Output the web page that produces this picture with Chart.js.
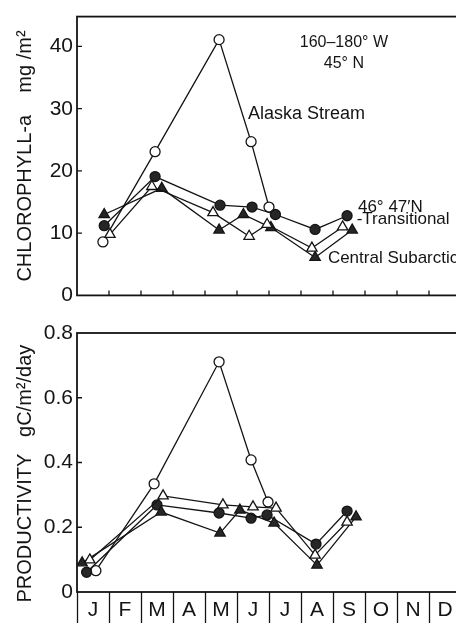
<!DOCTYPE html>
<html>
<head>
<meta charset="utf-8">
<script src="https://cdn.jsdelivr.net/npm/chart.js@4/dist/chart.umd.min.js"></script>
<style>
  html, body { margin: 0; padding: 0; background: #fff; overflow: hidden; }
  #wrap { position: relative; width: 456px; height: 623px; overflow: hidden; }
  canvas { position: absolute; left: 0; }
  #chlChart { top: 0; }
  #prodChart { top: 312px; }
</style>
</head>
<body>
<div id="wrap">
  <canvas id="chlChart" width="470" height="312"></canvas>
  <canvas id="prodChart" width="470" height="311"></canvas>
</div>
<script>
// months along the bottom strip; x is time in months (0 = start of Jan)
const MONTHS = ['J', 'F', 'M', 'A', 'M', 'J', 'J', 'A', 'S', 'O', 'N', 'D'];
const CHL_TICKS = [0, 10, 20, 30, 40];
const PROD_TICKS = [0, 0.2, 0.4, 0.6, 0.8];

// Alaska Stream (open circles)
const alaskaChlX = [0.81, 2.44, 4.44, 5.44, 6.0];
const alaskaChl = [8.6, 23.1, 41.1, 24.7, 14.2];
const alaskaProdX = [0.59, 2.41, 4.44, 5.44, 5.97];
const alaskaProd = [0.066, 0.334, 0.711, 0.408, 0.278];

// 46-47N (filled circles)
const northChlX = [0.85, 2.44, 4.47, 5.47, 6.2, 7.44, 8.44];
const northChl = [11.2, 19.1, 14.5, 14.2, 13.0, 10.6, 12.8];
const northProdX = [0.3, 2.5, 4.44, 5.44, 5.94, 7.47, 8.44];
const northProd = [0.061, 0.269, 0.244, 0.228, 0.238, 0.148, 0.25];

// Transitional (open triangles)
const transChlX = [1.03, 2.34, 4.25, 5.38, 5.94, 7.34, 8.3];
const transChl = [9.8, 17.5, 13.3, 9.5, 11.4, 7.6, 11.0];
const transProdX = [0.4, 2.69, 4.56, 5.5, 6.22, 7.44, 8.44];
const transProd = [0.099, 0.297, 0.269, 0.263, 0.259, 0.114, 0.216];

// Central Subarctic (filled triangles)
const centChlX = [0.85, 2.65, 4.44, 5.2, 6.06, 7.44, 8.6];
const centChl = [13.0, 17.2, 10.5, 13.0, 10.9, 6.1, 10.5];
const centProdX = [0.16, 2.63, 4.47, 5.09, 6.16, 7.5, 8.72];
const centProd = [0.090, 0.247, 0.182, 0.253, 0.213, 0.083, 0.232];

// text labels inside the chlorophyll panel, placed in data units
const chlNotes = [
  { text: '160\u2013180\u00b0 W', x: 8.34, y: 40.6, align: 'center', size: 16 },
  { text: '45\u00b0 N', x: 8.34, y: 37.2, align: 'center', size: 16 },
  { text: 'Alaska Stream', x: 5.34, y: 29.2, align: 'left', size: 18 },
  { text: '46\u00b0 47\u2032N', x: 8.78, y: 14.1, align: 'left', size: 17 },
  { text: '-Transitional', x: 8.74, y: 12.2, align: 'left', size: 17 },
  { text: 'Central Subarctic', x: 7.84, y: 5.9, align: 'left', size: 17 }
];

const INK = '#141414';
const FONT = "'Liberation Sans', Arial, sans-serif";

function pts(xs, ys) {
  return xs.map((x, i) => ({ x: x, y: ys[i] }));
}

function series(data, style, filled) {
  const isTri = style === 'triangle';
  return {
    data: data,
    borderColor: INK,
    borderWidth: 1.3,
    tension: 0,
    fill: false,
    pointStyle: style,
    pointRadius: isTri ? 6 : 5,
    pointBackgroundColor: filled ? '#262626' : '#ffffff',
    pointBorderColor: INK,
    pointBorderWidth: 1.3
  };
}

// frame around the plot plus short inward tick marks
const framePlugin = {
  id: 'frame',
  afterDatasetsDraw(chart, args, opts) {
    const { ctx, chartArea: a, scales } = chart;
    ctx.save();
    ctx.strokeStyle = INK;
    ctx.lineWidth = 1.8;
    ctx.strokeRect(a.left, a.top, a.right - a.left, a.bottom - a.top);
    ctx.lineWidth = 1.3;
    ctx.beginPath();
    scales.y.ticks.forEach(t => {
      if (t.value <= scales.y.min || t.value >= scales.y.max) return;
      const py = scales.y.getPixelForValue(t.value);
      ctx.moveTo(a.left, py);
      ctx.lineTo(a.left + 5, py);
    });
    if (opts.monthTicks) {
      for (let m = 1; m < MONTHS.length; m++) {
        const px = scales.x.getPixelForValue(m);
        ctx.moveTo(px, a.bottom);
        ctx.lineTo(px, a.bottom - 5);
      }
    }
    ctx.stroke();
    ctx.restore();
  }
};

const notesPlugin = {
  id: 'notes',
  afterDraw(chart, args, opts) {
    if (!opts.items) return;
    const { ctx, scales } = chart;
    ctx.save();
    ctx.fillStyle = INK;
    ctx.textBaseline = 'middle';
    opts.items.forEach(n => {
      ctx.font = n.size + 'px ' + FONT;
      ctx.textAlign = n.align;
      ctx.fillText(n.text, scales.x.getPixelForValue(n.x), scales.y.getPixelForValue(n.y));
    });
    ctx.restore();
  }
};

function yAxis(ticks, max, title) {
  return {
    type: 'linear',
    min: 0,
    max: max,
    afterBuildTicks: s => { s.ticks = ticks.map(v => ({ value: v })); },
    afterFit: s => { s.width = 77; },
    grid: { display: false, drawTicks: false },
    border: { display: false },
    ticks: { color: INK, padding: 4, font: { family: FONT, size: 21 } },
    title: {
      display: true,
      text: title,
      color: INK,
      font: { family: FONT, size: 20 },
      padding: { top: 13, bottom: 0 }
    }
  };
}

const baseOptions = {
  responsive: false,
  animation: false,
  events: [],
  plugins: { legend: { display: false }, tooltip: { enabled: false } }
};

// Chlorophyll-a panel
new Chart(document.getElementById('chlChart'), {
  type: 'line',
  data: {
    datasets: [
      series(pts(transChlX, transChl), 'triangle', false),
      series(pts(centChlX, centChl), 'triangle', true),
      series(pts(northChlX, northChl), 'circle', true),
      series(pts(alaskaChlX, alaskaChl), 'circle', false)
    ]
  },
  options: Object.assign({}, baseOptions, {
    layout: { padding: { top: 13, right: 9, left: 0, bottom: 0 } },
    plugins: Object.assign({}, baseOptions.plugins, {
      frame: { monthTicks: true },
      notes: { items: chlNotes }
    }),
    scales: {
      x: {
        type: 'linear',
        min: 0,
        max: 12,
        afterFit: s => { s.height = 12; },
        grid: { display: false },
        border: { display: false },
        ticks: { display: false }
      },
      y: yAxis(CHL_TICKS, 44.8, 'CHLOROPHYLL-a    mg /m\u00b2')
    }
  }),
  plugins: [framePlugin, notesPlugin]
});

// Productivity panel with month strip underneath
new Chart(document.getElementById('prodChart'), {
  type: 'line',
  data: {
    datasets: [
      series(pts(transProdX, transProd), 'triangle', false),
      series(pts(centProdX, centProd), 'triangle', true),
      series(pts(northProdX, northProd), 'circle', true),
      series(pts(alaskaProdX, alaskaProd), 'circle', false)
    ]
  },
  options: Object.assign({}, baseOptions, {
    layout: { padding: { top: 21, right: 9, left: 0, bottom: 0 } },
    plugins: Object.assign({}, baseOptions.plugins, {
      frame: { monthTicks: false },
      notes: {}
    }),
    scales: {
      x: {
        type: 'linear',
        min: 0,
        max: 12,
        afterBuildTicks: s => { s.ticks = MONTHS.map((m, i) => ({ value: i + 0.5 })); },
        afterFit: s => { s.height = 31; },
        grid: {
          offset: true,
          drawOnChartArea: false,
          drawTicks: true,
          tickLength: 31,
          tickColor: INK,
          tickWidth: 1.3
        },
        border: { display: false },
        ticks: {
          color: INK,
          padding: -25,
          maxRotation: 0,
          autoSkip: false,
          font: { family: FONT, size: 21 },
          callback: (v, i) => MONTHS[i]
        }
      },
      y: yAxis(PROD_TICKS, 0.8, 'PRODUCTIVITY   gC/m\u00b2/day\u00a0\u00a0\u00a0\u00a0')
    }
  }),
  plugins: [framePlugin, notesPlugin]
});
</script>
</body>
</html>
